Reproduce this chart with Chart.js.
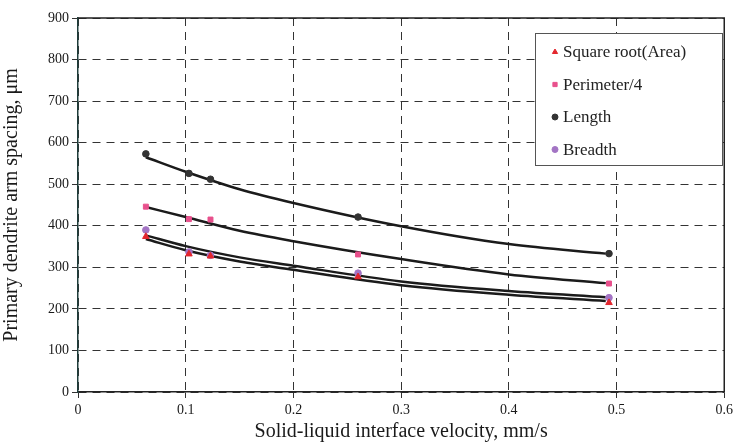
<!DOCTYPE html>
<html>
<head>
<meta charset="utf-8">
<script src="https://cdn.jsdelivr.net/npm/chart.js@4"></script>
<style>
  html, body { margin: 0; padding: 0; background: #fff; }
  canvas { display: block; }
</style>
</head>
<body>
<canvas id="chart" width="737" height="443"></canvas>
<script>
// measured points
const velocity = [0.063, 0.103, 0.123, 0.26, 0.493];
const sqrtArea = [374, 332, 327, 277, 215];
const perimeter4 = [446, 416, 415, 331, 261];
const lengthVals = [573, 526, 512, 421, 333];
const breadthVals = [390, 337, 329, 286, 227];

// trend curves
const fitX = [0.063, 0.1, 0.15, 0.2, 0.3, 0.4, 0.49];
const fitLength = [565, 530, 488, 455, 399, 356, 333];
const fitPerimeter = [445, 421, 388, 363, 320, 283, 262];
const fitBreadth = [377, 351, 324, 304, 266, 243, 228];
const fitSqrt = [368, 341, 314, 294, 257, 234, 219];

const seriesNames = ["Square root(Area)", "Perimeter/4", "Length", "Breadth"];

const serif = "'Liberation Serif', 'DejaVu Serif', serif";

function pts(xs, ys) {
    return xs.map((x, i) => ({ x: x, y: ys[i] }));
}

function fitLine(ys) {
    return {
        type: "line",
        data: pts(fitX, ys),
        borderColor: "#1b1b1b",
        borderWidth: 2.5,
        pointRadius: 0,
        fill: false,
        cubicInterpolationMode: "monotone",
        inLegend: false,
        order: 2
    };
}

function marks(label, ys, style, color, r) {
    return {
        type: "scatter",
        label: label,
        data: pts(velocity, ys),
        pointStyle: style,
        pointRadius: r,
        backgroundColor: color,
        borderColor: color,
        borderWidth: 1,
        inLegend: true,
        order: 1
    };
}

// legend box drawn inside the plot
const boxLegend = {
    id: "boxLegend",
    afterDraw(chart) {
        let ctx = chart.ctx;
        let area = chart.chartArea;
        ctx.save();
        // plot frame
        ctx.strokeStyle = "#222";
        ctx.lineWidth = 1.5;
        ctx.beginPath();
        ctx.moveTo(area.left, area.top);
        ctx.lineTo(area.right, area.top);
        ctx.lineTo(area.right, area.bottom);
        ctx.stroke();

        let bx = 535, by = 33, bw = 187, bh = 132;
        ctx.fillStyle = "#fff";
        ctx.fillRect(bx, by, bw, bh);
        ctx.strokeStyle = "#555";
        ctx.lineWidth = 1;
        ctx.strokeRect(bx + 0.5, by + 0.5, bw, bh);

        let items = chart.data.datasets.filter(d => d.inLegend);
        ctx.font = "17px " + serif;
        ctx.textBaseline = "middle";
        items.forEach((d, i) => {
            let y = 52 + i * 32.5;
            ctx.fillStyle = d.backgroundColor;
            ctx.strokeStyle = d.borderColor;
            Chart.helpers.drawPoint(ctx, { pointStyle: d.pointStyle, radius: 3, borderWidth: 1 }, 555, y);
            ctx.fillStyle = "#222";
            ctx.fillText(d.label, 563, y + 1);
        });
        ctx.restore();
    }
};

let ctx = document.getElementById("chart");
new Chart(ctx, {
    type: "scatter",
    data: {
        datasets: [
            fitLine(fitLength),
            fitLine(fitPerimeter),
            fitLine(fitBreadth),
            fitLine(fitSqrt),
            marks(seriesNames[0], sqrtArea, "triangle", "#e3262d", 3.8),
            marks(seriesNames[1], perimeter4, "rect", "#e8508c", 3.5),
            marks(seriesNames[2], lengthVals, "circle", "#333333", 3.3),
            marks(seriesNames[3], breadthVals, "circle", "#a374c4", 3.3)
        ]
    },
    options: {
        responsive: false,
        animation: false,
        layout: { padding: { left: 0, right: 10, top: 18, bottom: 0 } },
        plugins: {
            legend: { display: false },
            tooltip: { enabled: false }
        },
        scales: {
            x: {
                type: "linear",
                min: 0,
                max: 0.6,
                ticks: { stepSize: 0.1, color: "#1a1a1a", font: { family: serif, size: 14 }, padding: 4 },
                grid: { color: "#333", lineWidth: 1, tickLength: 6, tickColor: "#333", tickBorderDash: [] },
                border: { display: true, color: "#222", width: 1.5, dash: [8, 6] },
                title: {
                    display: true,
                    text: "Solid-liquid interface velocity, mm/s",
                    color: "#1a1a1a",
                    font: { family: serif, size: 20, lineHeight: 1.1 },
                    padding: { top: 4, bottom: 0 }
                },
                afterFit(scale) { scale.height = 51; }
            },
            y: {
                min: 0,
                max: 900,
                ticks: { stepSize: 100, color: "#1a1a1a", font: { family: serif, size: 14 }, padding: 3 },
                grid: { color: "#333", lineWidth: 1, tickLength: 6, tickColor: "#333", tickBorderDash: [] },
                border: { display: true, color: "#1e3d3a", width: 1.5, dash: [8, 6] },
                title: {
                    display: true,
                    text: "Primary dendrite arm spacing, μm",
                    color: "#1a1a1a",
                    font: { family: serif, size: 20 },
                    padding: { top: 0, bottom: 2 }
                },
                afterFit(scale) { scale.width = 78; }
            }
        }
    },
    plugins: [boxLegend]
});
</script>
</body>
</html>
